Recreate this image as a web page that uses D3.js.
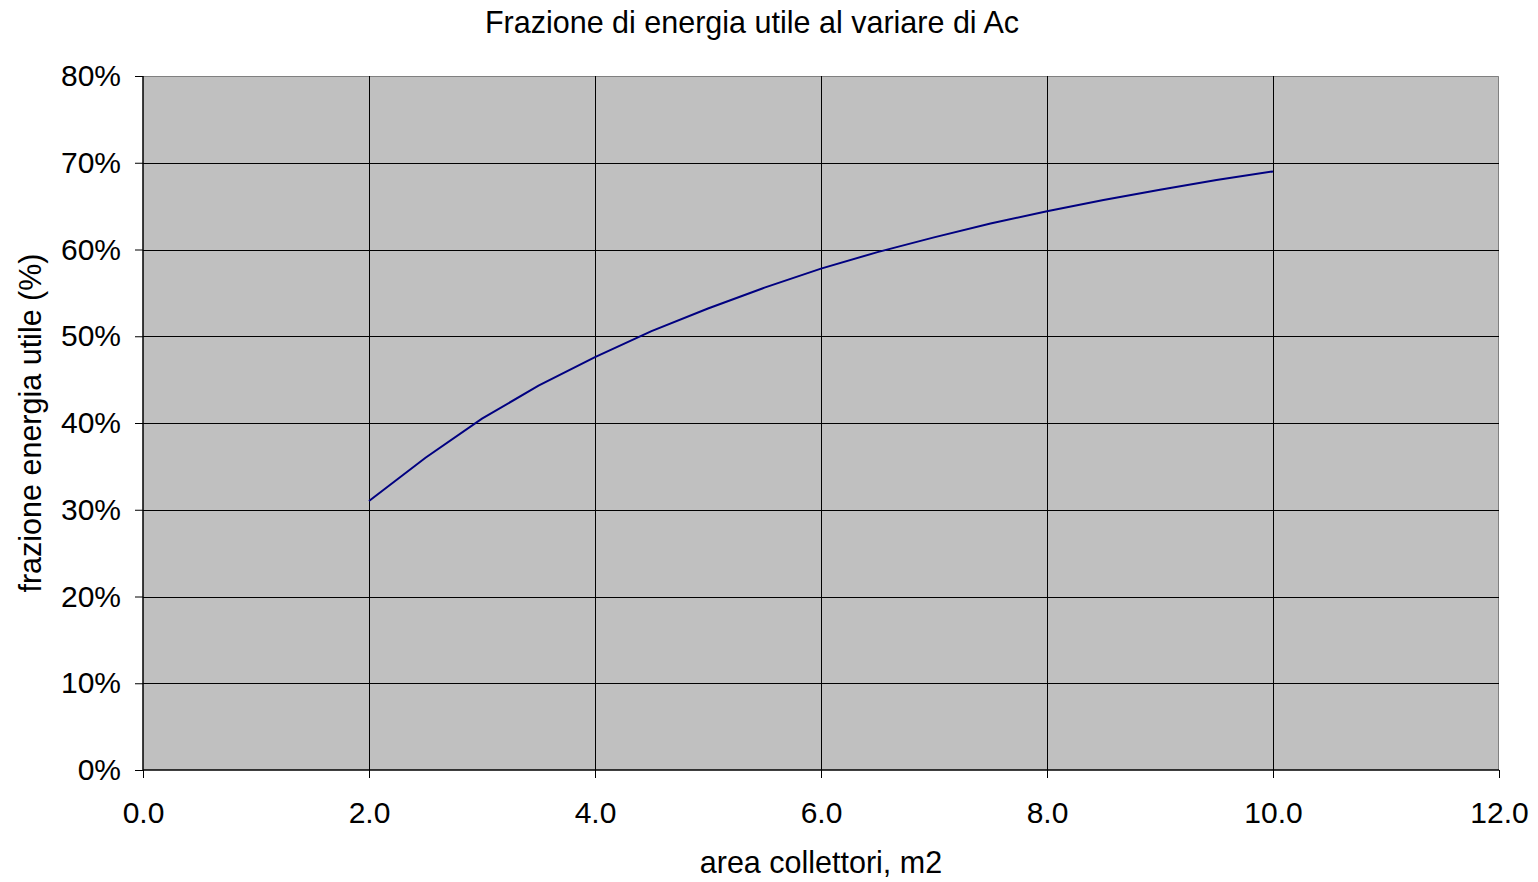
<!DOCTYPE html>
<html>
<head>
<meta charset="utf-8">
<script src="https://cdn.jsdelivr.net/npm/d3@7"></script>
<style>
  body { margin: 0; background: #fff; }
  text { font-family: "Liberation Sans", Arial, sans-serif; fill: #000; }
</style>
</head>
<body>
<div id="chart"></div>
<script>
"use strict";

// == DATA ==
var areas = [2.0, 2.5, 3.0, 3.5, 4.0, 4.5, 5.0, 5.5, 6.0, 6.5, 7.0, 7.5, 8.0, 8.5, 9.0, 9.5, 10.0];
var fractions = [0.310, 0.360, 0.405, 0.443, 0.476, 0.506, 0.532, 0.556, 0.578, 0.597, 0.614, 0.630, 0.644, 0.657, 0.669, 0.680, 0.690];
var xTicks = [0, 2, 4, 6, 8, 10, 12];
var yTicks = [0, 0.1, 0.2, 0.3, 0.4, 0.5, 0.6, 0.7, 0.8];

var data = areas.map(function (a, i) { return { x: a, y: fractions[i] }; });

// == BOILERPLATE ==
var W = 1538, H = 882;
var margin = { top: 76, right: 39, bottom: 112, left: 143 },
    width = W - margin.left - margin.right,
    height = H - margin.top - margin.bottom;

var svg = d3.select("#chart")
            .append("svg")
            .attr("width", W)
            .attr("height", H);

var g = svg.append("g")
           .attr("transform", "translate(" + margin.left + "," + margin.top + ")");

var xScale = d3.scaleLinear().domain([0, 12]).range([0, width]);
var yScale = d3.scaleLinear().domain([0, 0.8]).range([height, 0]);

// plot background
g.append("rect")
 .attr("width", width)
 .attr("height", height)
 .style("fill", "#c0c0c0");

// top/right border
g.append("path")
 .attr("d", "M0,0.5H" + (width - 0.5) + "V" + height)
 .style("fill", "none")
 .style("stroke", "#808080")
 .style("stroke-width", 1);

// gridlines
g.selectAll(".hgrid")
 .data(yTicks.slice(1, -1))
 .enter()
 .append("line")
 .attr("x1", 0).attr("x2", width)
 .attr("y1", function (d) { return Math.round(yScale(d)) + 0.5; })
 .attr("y2", function (d) { return Math.round(yScale(d)) + 0.5; })
 .style("stroke", "#000")
 .style("stroke-width", 1);

g.selectAll(".vgrid")
 .data(xTicks.slice(1, -1))
 .enter()
 .append("line")
 .attr("y1", 0).attr("y2", height)
 .attr("x1", function (d) { return Math.round(xScale(d)) + 0.5; })
 .attr("x2", function (d) { return Math.round(xScale(d)) + 0.5; })
 .style("stroke", "#000")
 .style("stroke-width", 1);

// axes
var xAxis = d3.axisBottom(xScale)
              .tickValues(xTicks)
              .tickSize(8)
              .tickPadding(24)
              .tickFormat(d3.format(".1f"));
var yAxis = d3.axisLeft(yScale)
              .tickValues(yTicks)
              .tickSize(8)
              .tickPadding(14)
              .tickFormat(d3.format(".0%"));

var gx = g.append("g")
          .attr("transform", "translate(0," + height + ")")
          .call(xAxis);
var gy = g.append("g").call(yAxis);

[gx, gy].forEach(function (ax) {
  ax.select(".domain").style("stroke", "#000").style("stroke-width", 1.5);
  ax.selectAll(".tick line").style("stroke", "#000");
  ax.selectAll(".tick text")
    .style("font-size", "30px")
    .style("font-family", "'Liberation Sans', Arial, sans-serif");
});
gy.select(".domain").attr("d", "M0," + height + "V0");
gx.select(".domain").attr("d", "M0,0H" + width);

// line
var line = d3.line()
             .x(function (d) { return xScale(d.x); })
             .y(function (d) { return yScale(d.y); });

g.append("path")
 .datum(data)
 .attr("d", line)
 .style("fill", "none")
 .style("stroke", "#000080")
 .style("stroke-width", 2);

// titles
svg.append("text")
   .attr("x", 752).attr("y", 33)
   .attr("text-anchor", "middle")
   .style("font-size", "30.5px")
   .text("Frazione di energia utile al variare di Ac");

svg.append("text")
   .attr("x", margin.left + width / 2).attr("y", 873)
   .attr("text-anchor", "middle")
   .style("font-size", "30.5px")
   .text("area collettori, m2");

svg.append("text")
   .attr("transform", "translate(41," + (margin.top + height / 2) + ") rotate(-90)")
   .attr("text-anchor", "middle")
   .style("font-size", "30.5px")
   .text("frazione energia utile (%)");
</script>
</body>
</html>
